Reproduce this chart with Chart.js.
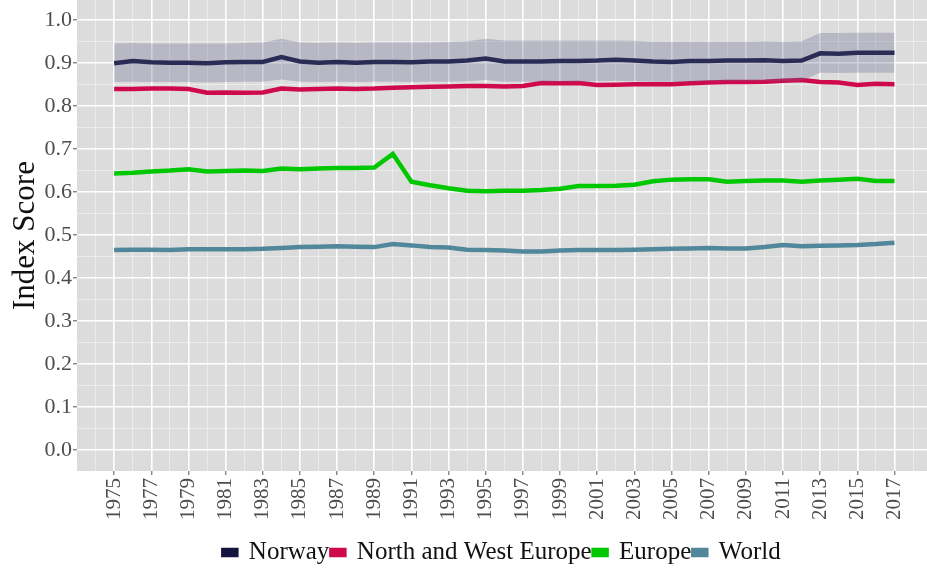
<!DOCTYPE html>
<html>
<head>
<meta charset="utf-8">
<script src="https://cdn.jsdelivr.net/npm/chart.js@4/dist/chart.umd.min.js"></script>
<style>
html,body{margin:0;padding:0;background:#fff;overflow:hidden;}
#wrap{width:927px;height:570px;}
</style>
</head>
<body>
<div id="wrap"><canvas id="c" width="927" height="570"></canvas></div>
<script>
const years = [1975,1976,1977,1978,1979,1980,1981,1982,1983,1984,1985,1986,1987,1988,1989,1990,1991,1992,1993,1994,1995,1996,1997,1998,1999,2000,2001,2002,2003,2004,2005,2006,2007,2008,2009,2010,2011,2012,2013,2014,2015,2016,2017];

const norway = [0.900,0.905,0.902,0.901,0.901,0.900,0.902,0.903,0.903,0.914,0.904,0.901,0.903,0.901,0.903,0.903,0.902,0.904,0.904,0.906,0.911,0.904,0.904,0.904,0.905,0.905,0.906,0.908,0.906,0.904,0.903,0.905,0.905,0.906,0.906,0.907,0.905,0.906,0.923,0.922,0.924,0.924,0.924];
const norwayUpper = [0.946,0.947,0.946,0.946,0.946,0.946,0.946,0.947,0.948,0.957,0.948,0.947,0.948,0.947,0.948,0.948,0.948,0.948,0.949,0.951,0.957,0.953,0.953,0.953,0.953,0.953,0.953,0.953,0.952,0.950,0.950,0.950,0.950,0.950,0.950,0.951,0.950,0.951,0.970,0.970,0.971,0.971,0.971];
const norwayLower = [0.856,0.857,0.856,0.856,0.856,0.855,0.856,0.857,0.857,0.862,0.857,0.856,0.857,0.856,0.857,0.857,0.856,0.857,0.857,0.858,0.861,0.857,0.857,0.857,0.857,0.857,0.858,0.859,0.858,0.857,0.857,0.857,0.858,0.858,0.858,0.859,0.858,0.859,0.878,0.877,0.878,0.878,0.878];
const nwEurope = [0.840,0.840,0.841,0.841,0.840,0.831,0.832,0.831,0.832,0.841,0.839,0.840,0.841,0.840,0.841,0.843,0.844,0.845,0.846,0.847,0.847,0.846,0.847,0.854,0.853,0.854,0.849,0.850,0.851,0.851,0.851,0.853,0.855,0.856,0.856,0.857,0.859,0.861,0.856,0.855,0.849,0.852,0.851];
const europe = [0.643,0.645,0.648,0.650,0.653,0.648,0.649,0.650,0.649,0.655,0.653,0.655,0.656,0.656,0.657,0.689,0.624,0.616,0.609,0.603,0.602,0.603,0.603,0.605,0.608,0.614,0.614,0.615,0.617,0.625,0.629,0.630,0.630,0.624,0.626,0.627,0.627,0.624,0.627,0.629,0.631,0.626,0.626];
const world = [0.465,0.466,0.466,0.465,0.467,0.467,0.467,0.467,0.468,0.470,0.472,0.473,0.474,0.473,0.472,0.479,0.476,0.472,0.471,0.466,0.465,0.464,0.462,0.462,0.464,0.465,0.465,0.465,0.466,0.467,0.468,0.469,0.470,0.469,0.469,0.472,0.477,0.474,0.475,0.476,0.477,0.479,0.482];

const xTickLabels = [1975,1977,1979,1981,1983,1985,1987,1989,1991,1993,1995,1997,1999,2001,2003,2005,2007,2009,2011,2013,2015,2017];
const yTickLabels = [0.0,0.1,0.2,0.3,0.4,0.5,0.6,0.7,0.8,0.9,1.0];

const seriesNames = ['Norway','North and West Europe','Europe','World'];
const seriesColors = ['#14143f','#cf0a4c','#00c800','#51879a'];

const SERIF = "'Liberation Serif','DejaVu Serif',serif";

const toPts = arr => arr.map((v,i)=>({x:years[i], y:v}));

// grid positions: majors at labelled values, minors halfway between
const xGrid = [];
for (let i=0;i<xTickLabels.length;i++){
  if (i===0) xGrid.push(xTickLabels[0]-1);
  xGrid.push(xTickLabels[i]);
  xGrid.push(xTickLabels[i]+1);
}
const yGrid = [];
for (let i=0;i<yTickLabels.length;i++){
  yGrid.push(yTickLabels[i]);
  if (i<yTickLabels.length-1) yGrid.push((yTickLabels[i]+yTickLabels[i+1])/2);
}
const isXMajor = v => xTickLabels.includes(v);
const isYMajor = v => yTickLabels.some(t=>Math.abs(t-v)<1e-6);

const panelBg = {
  id:'panelBg',
  beforeDraw(chart){
    const {ctx, chartArea:a} = chart;
    ctx.save();
    ctx.fillStyle = '#dcdcdc';
    ctx.fillRect(a.left, a.top, a.right-a.left, a.bottom-a.top);
    ctx.restore();
  }
};

const lineDs = (label, data, color) => ({
  label, data: toPts(data), borderColor: color, backgroundColor: color,
  borderWidth: 4.5, pointRadius: 0, tension: 0, fill: false
});

const noPad = s => { s.paddingLeft = 0; s.paddingRight = 0; s.paddingTop = 0; s.paddingBottom = 0; };

new Chart(document.getElementById('c'), {
  type: 'line',
  data: {
    datasets: [
      { label:'_upper', data: toPts(norwayUpper), borderWidth:0, pointRadius:0, fill:'+1', backgroundColor:'rgba(100,103,140,0.30)', borderColor:'rgba(0,0,0,0)' },
      { label:'_lower', data: toPts(norwayLower), borderWidth:0, pointRadius:0, fill:false, borderColor:'rgba(0,0,0,0)' },
      lineDs(seriesNames[0], norway, seriesColors[0]),
      lineDs(seriesNames[1], nwEurope, seriesColors[1]),
      lineDs(seriesNames[2], europe, seriesColors[2]),
      lineDs(seriesNames[3], world, seriesColors[3])
    ]
  },
  options: {
    responsive: false,
    animation: false,
    layout: { padding: { left: 0, right: 0, top: 0, bottom: -5 } },
    plugins: {
      tooltip: { enabled: false },
      legend: {
        position: 'bottom',
        fullSize: false,
        labels: {
          font: { family: SERIF, size: 25 },
          color: '#111',
          boxWidth: 13,
          boxHeight: 5,
          padding: 2,
          filter: item => !item.text.startsWith('_')
        }
      }
    },
    scales: {
      x: {
        type: 'linear',
        min: 1973,
        max: 2018.75,
        afterBuildTicks: s => { s.ticks = xGrid.map(v=>({value:v})); },
        afterFit: s => { s.height = 67; noPad(s); },
        border: { display: false },
        grid: {
          color: c => isXMajor(c.tick.value) ? '#ffffff' : 'rgba(255,255,255,0.55)',
          lineWidth: c => isXMajor(c.tick.value) ? 1.6 : 0.8,
          tickLength: 4,
          tickColor: c => isXMajor(c.tick.value) ? '#555555' : 'rgba(0,0,0,0)',
          tickWidth: 1
        },
        ticks: {
          autoSkip: false,
          minRotation: 90,
          maxRotation: 90,
          padding: 3,
          color: '#4d4d4d',
          font: { family: SERIF, size: 21 },
          callback: v => isXMajor(v) ? String(v) : ''
        }
      },
      y: {
        min: -0.049,
        max: 1.047,
        afterBuildTicks: s => { s.ticks = yGrid.map(v=>({value:v})); },
        afterFit: s => { s.width = 77; noPad(s); },
        border: { display: false },
        title: {
          display: true,
          text: 'Index Score',
          color: '#111',
          font: { family: SERIF, size: 31 },
          padding: { top: 7, bottom: 0 }
        },
        grid: {
          color: c => isYMajor(c.tick.value) ? '#ffffff' : 'rgba(255,255,255,0.55)',
          lineWidth: c => isYMajor(c.tick.value) ? 1.6 : 0.8,
          tickLength: 4,
          tickColor: c => isYMajor(c.tick.value) ? '#555555' : 'rgba(0,0,0,0)',
          tickWidth: 1
        },
        ticks: {
          autoSkip: false,
          padding: 1,
          color: '#4d4d4d',
          font: { family: SERIF, size: 22 },
          callback: v => isYMajor(v) ? v.toFixed(1) : ''
        }
      }
    }
  },
  plugins: [panelBg]
});
</script>
</body>
</html>
